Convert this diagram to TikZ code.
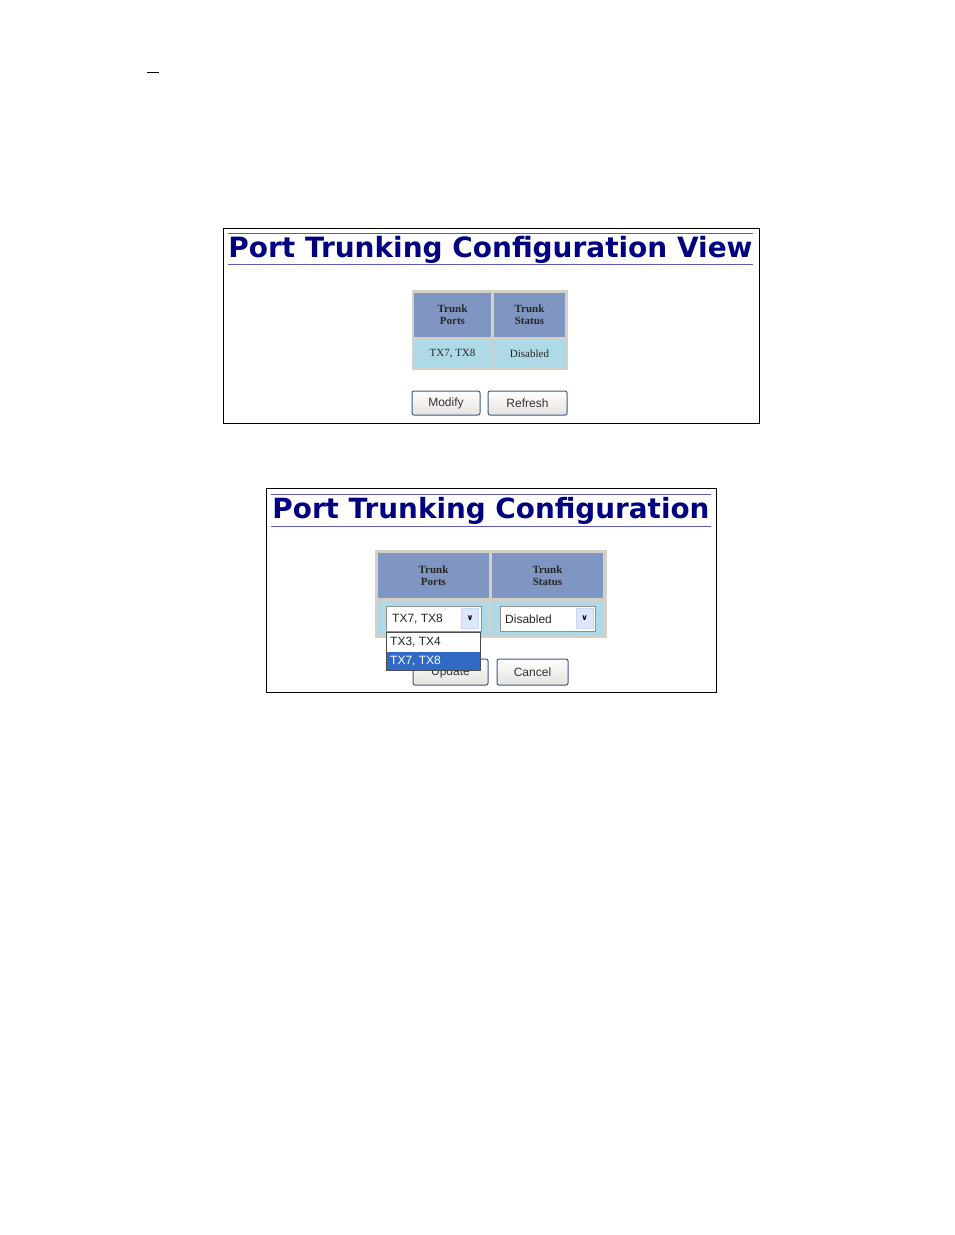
\documentclass[tikz,border=0pt]{standalone}
\usepackage{fontspec}
\setmainfont{Liberation Serif}
\newfontfamily\arialf{Liberation Sans}
\newfontfamily\verd{DejaVu Sans}
\definecolor{hdr}{HTML}{7F96C2}
\definecolor{rowc}{HTML}{ADDAE6}
\definecolor{grid}{HTML}{D4D0C8}
\definecolor{ttl}{HTML}{000080}
\definecolor{uline}{HTML}{5A5AB4}
\definecolor{btnb}{HTML}{3C5A82}
\definecolor{sel}{HTML}{316AC5}
\definecolor{arrb}{HTML}{C8D6F8}
\begin{document}
\begin{tikzpicture}[x=1pt,y=-1pt,
  btn/.style={draw=btnb,line width=1pt,rounded corners=2pt,top color=white,bottom color=grid!60,inner sep=0pt,font=\arialf\fontsize{12}{12}\selectfont,text=black!80},
  th/.style={font=\bfseries\fontsize{11}{12}\selectfont,align=center,text=black!85},
  td/.style={font=\fontsize{11}{12}\selectfont,text=black!85},
  dd/.style={font=\arialf\fontsize{12}{12}\selectfont,text=black!85,anchor=west,inner sep=0pt}]
\useasboundingbox (0,0) rectangle (954,1235);
\fill[white] (0,0) rectangle (954,1235);
\draw[line width=1pt] (147,72) -- (159,72);
% Panel 1
\draw[line width=1pt] (223.5,228.5) rectangle (759.5,423.5);
\draw[uline,line width=1pt] (228,233) -- (753,233);
\draw[uline,line width=1pt] (228,264) -- (753,264);
\node[text=ttl,inner sep=0pt] (t1) at (490.5,250) {\resizebox{524pt}{!}{\verd\bfseries Port Trunking Configuration View}};
\fill[grid] (412,290) rectangle (568,370);
\fill[hdr] (414,293) rectangle (491,337);
\fill[hdr] (494,293) rectangle (565,337);
\fill[rowc] (414,340) rectangle (491,368);
\fill[rowc] (494,340) rectangle (565,368);
\node[th] (h1) at (452.5,315) {Trunk\\Ports};
\node[th] (h2) at (529.5,315) {Trunk\\Status};
\node[td] (c1) at (452.5,354) {TX7, TX8};
\node[td] (c2) at (529.5,354) {Disabled};
\node[btn,minimum width=68pt,minimum height=24pt] (b1) at (446,403) {Modify};
\node[btn,minimum width=79pt,minimum height=24pt] (b2) at (527.5,403) {Refresh};
% Panel 2
\draw[line width=1pt] (266.5,488.5) rectangle (716.5,692.5);
\draw[uline,line width=1pt] (271,494) -- (711,494);
\draw[uline,line width=1pt] (271,526) -- (711,526);
\node[text=ttl,inner sep=0pt] (t2) at (491,511) {\resizebox{437pt}{!}{\verd\bfseries Port Trunking Configuration}};
\fill[grid] (375,550) rectangle (607,638);
\fill[hdr] (378,553) rectangle (489,598);
\fill[hdr] (492,553) rectangle (603,598);
\fill[rowc] (378,601) rectangle (489,635);
\fill[rowc] (492,601) rectangle (603,635);
\node[th] (h3) at (433.5,576) {Trunk\\Ports};
\node[th] (h4) at (547.5,576) {Trunk\\Status};
\node[btn,minimum width=75pt,minimum height=26pt] (b3) at (450.5,672) {Update};
\node[btn,minimum width=71pt,minimum height=26pt] (b4) at (532.5,672) {Cancel};
% dropdown 1
\draw[draw=grid!70!black,fill=white] (386.5,606.5) rectangle (481.5,631.5);
\node[draw=arrb,fill=arrb!60,inner sep=0pt,minimum width=17pt,minimum height=20pt,font=\fontsize{8}{8}\selectfont] (a1) at (470,618.5) {\verd\bfseries ∨};
\node[dd] (d1) at (392,619) {TX7, TX8};
% dropdown 2
\draw[draw=grid!70!black,fill=white] (500.5,606.5) rectangle (595.5,631.5);
\node[draw=arrb,fill=arrb!60,inner sep=0pt,minimum width=17pt,minimum height=20pt,font=\fontsize{8}{8}\selectfont] (a2) at (584.5,618.5) {\verd\bfseries ∨};
\node[dd] (d2) at (505,619) {Disabled};
% list
\draw[draw=black!70,fill=white] (386.5,632.5) rectangle (480.5,670.5);
\fill[sel] (387,652) rectangle (480,670);
\node[dd] (l1) at (390,642) {TX3, TX4};
\node[dd,text=white] (l2) at (390,661) {TX7, TX8};
\end{tikzpicture}
\end{document}
